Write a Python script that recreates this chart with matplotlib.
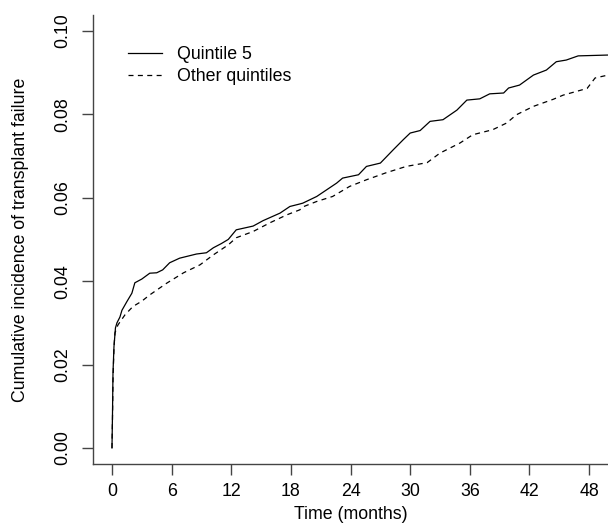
import numpy as np
import matplotlib
matplotlib.use('Agg')
import matplotlib.pyplot as plt

# ==== data (months, cumulative incidence) ====
q5_time = [0, 0.05, 0.1, 0.2, 0.35, 0.5, 0.8, 1.0, 1.5, 2.0, 2.3, 3.0, 3.8, 4.5, 5.1,
           5.8, 6.8, 8.5, 9.5, 10.2, 11.0, 11.7, 12.5, 14.2, 15.2, 16.9, 17.9, 18.9,
           19.2, 20.6, 21.6, 22.6, 23.2, 24.8, 25.6, 27.0, 28.3, 29.3, 30.0, 31.0,
           32.0, 33.3, 34.7, 35.7, 37.0, 38.0, 39.4, 39.9, 41.0, 41.7, 42.4, 43.7,
           44.7, 45.7, 46.9, 49.9]
q5_inc = [0, 0.008, 0.018, 0.0243, 0.0288, 0.030, 0.0314, 0.033, 0.0351, 0.0371,
          0.0396, 0.0405, 0.0419, 0.042, 0.0427, 0.0444, 0.0455, 0.0465, 0.0468,
          0.048, 0.049, 0.050, 0.0523, 0.0532, 0.0545, 0.0563, 0.0579, 0.0585,
          0.0587, 0.0603, 0.0619, 0.0635, 0.0647, 0.0655, 0.0675, 0.0683, 0.0715,
          0.0739, 0.0755, 0.0761, 0.0783, 0.0787, 0.081, 0.0834, 0.0837, 0.0849,
          0.0851, 0.0863, 0.087, 0.0882, 0.0894, 0.0906, 0.0926, 0.093, 0.094, 0.0942]

oth_time = [0, 0.05, 0.1, 0.2, 0.3, 0.6, 1.3, 2.1, 3.0, 3.8, 5.5, 7.2, 8.85, 10.2,
            11.7, 12.5, 14.2, 15.9, 17.6, 18.9, 19.2, 20.6, 22.2, 23.9, 25.6, 27.6,
            29.6, 31.7, 33.0, 35.0, 36.3, 38.3, 39.7, 40.7, 42.4, 44.4, 45.4, 47.8,
            48.6, 49.9]
oth_inc = [0, 0.007, 0.016, 0.024, 0.0276, 0.0295, 0.0319, 0.0339, 0.0352, 0.0367,
           0.0395, 0.042, 0.0439, 0.0463, 0.0487, 0.0504, 0.0519, 0.054, 0.0559,
           0.0571, 0.0578, 0.0591, 0.0603, 0.0627, 0.0643, 0.066, 0.0675, 0.0684,
           0.0707, 0.0731, 0.0751, 0.0763, 0.0779, 0.0799, 0.0819, 0.0836, 0.0846,
           0.0862, 0.0887, 0.0894]

x_ticks = [0, 6, 12, 18, 24, 30, 36, 42, 48]
y_ticks = [0.00, 0.02, 0.04, 0.06, 0.08, 0.10]

plt.rcParams['font.family'] = ['Liberation Sans', 'DejaVu Sans']
plt.rcParams['font.size'] = 12.8

fig = plt.figure(figsize=(6.08, 5.23), dpi=100)
ax = fig.add_axes([93 / 608, (523 - 464) / 523, 515 / 608, 449 / 523])

ax.plot(q5_time, q5_inc, color='black', lw=0.9, label='Quintile 5')
ax.plot(oth_time, oth_inc, color='black', lw=0.9,
        linestyle=(0, (4, 3.5)), label='Other quintiles')

ax.set_xlim(-1.91, 49.9)
ax.set_ylim(-0.00384, 0.1038)
ax.set_xticks(x_ticks)
ax.set_xticklabels([str(t) for t in x_ticks])
ax.set_yticks(y_ticks)
ax.set_yticklabels([f"{v:.2f}" for v in y_ticks], rotation=90, va='center')

for s in ['top', 'right']:
    ax.spines[s].set_visible(False)
for s in ['left', 'bottom']:
    ax.spines[s].set_color('#444444')
    ax.spines[s].set_linewidth(1.0)
ax.tick_params(axis='both', direction='out', length=7.9, width=1.0, color='#444444')
ax.tick_params(axis='x', pad=6)
ax.tick_params(axis='y', pad=7.5)

ax.set_xlabel('Time (months)')
ax.set_ylabel('Cumulative incidence of transplant failure')
ax.xaxis.set_label_coords(0.5, -0.094)
ax.yaxis.set_label_coords(-0.125, 0.5)

ax.legend(loc='upper left', bbox_to_anchor=(0.068, 0.93), frameon=False,
          handlelength=1.9, handletextpad=0.85, labelspacing=0.28, borderaxespad=0,
          borderpad=0)

fig.savefig('out.png', dpi=100)
